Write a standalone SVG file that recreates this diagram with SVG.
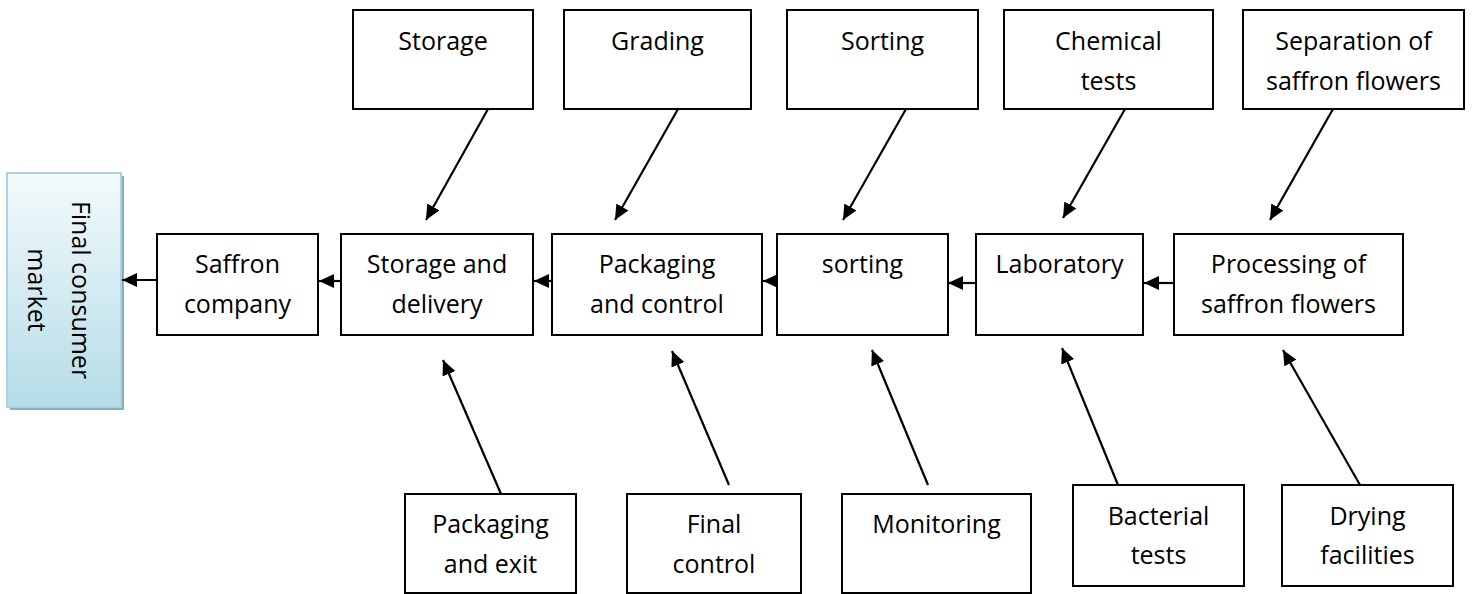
<svg xmlns="http://www.w3.org/2000/svg" width="1479" height="594" viewBox="0 0 1479 594">
  <style>
    .box { fill: #ffffff; stroke: #000000; stroke-width: 2; }
    .lbl { font-family: "Open Sans", "Liberation Sans", sans-serif; font-size: 25px; fill: #000000; text-anchor: middle; }
    .conn { stroke: #000000; stroke-width: 2.2; fill: none; marker-end: url(#arrow); }
  </style>
  <defs>
    <marker id="arrow" markerUnits="userSpaceOnUse" markerWidth="16" markerHeight="14" refX="15" refY="7" orient="auto">
      <path d="M0,0 L15,7 L0,14 z" fill="#000000"/>
    </marker>
    <linearGradient id="marketFill" x1="0" y1="0" x2="0" y2="1">
      <stop offset="0" stop-color="#f3fafc"/>
      <stop offset="1" stop-color="#b5dce7"/>
    </linearGradient>
  </defs>

  <!-- Final consumer market -->
  <g id="market">
    <rect x="10" y="176" width="114" height="234" fill="#8aaebd"/>
    <rect x="7" y="173" width="114" height="234" fill="url(#marketFill)" stroke="#a8d4e0" stroke-width="2"/>
    <text class="lbl" transform="translate(64,290) rotate(90)"><tspan x="0" y="-8">Final consumer</tspan><tspan x="0" y="36">market</tspan></text>
  </g>

  <!-- Main chain -->
  <g id="saffron-company">
    <rect class="box" x="157" y="234" width="161" height="101"/>
    <text class="lbl"><tspan x="237.5" y="273">Saffron</tspan><tspan x="237.5" y="313">company</tspan></text>
  </g>
  <g id="storage-delivery">
    <rect class="box" x="341" y="234" width="192" height="101"/>
    <text class="lbl"><tspan x="437" y="273">Storage and</tspan><tspan x="437" y="313">delivery</tspan></text>
  </g>
  <g id="packaging-control">
    <rect class="box" x="552" y="234" width="210" height="101"/>
    <text class="lbl"><tspan x="657" y="273">Packaging</tspan><tspan x="657" y="313">and control</tspan></text>
  </g>
  <g id="sorting-main">
    <rect class="box" x="777" y="234" width="171" height="101"/>
    <text class="lbl"><tspan x="862.5" y="273">sorting</tspan></text>
  </g>
  <g id="laboratory">
    <rect class="box" x="976" y="234" width="167" height="101"/>
    <text class="lbl"><tspan x="1059.5" y="273">Laboratory</tspan></text>
  </g>
  <g id="processing">
    <rect class="box" x="1174" y="234" width="229" height="101"/>
    <text class="lbl"><tspan x="1288.5" y="273">Processing of</tspan><tspan x="1288.5" y="313">saffron flowers</tspan></text>
  </g>

  <!-- Upper inputs -->
  <g id="storage">
    <rect class="box" x="353" y="10" width="180" height="99"/>
    <text class="lbl"><tspan x="443" y="50">Storage</tspan></text>
  </g>
  <g id="grading">
    <rect class="box" x="564" y="10" width="187" height="99"/>
    <text class="lbl"><tspan x="657.5" y="50">Grading</tspan></text>
  </g>
  <g id="sorting-input">
    <rect class="box" x="787" y="10" width="191" height="99"/>
    <text class="lbl"><tspan x="882.5" y="50">Sorting</tspan></text>
  </g>
  <g id="chemical-tests">
    <rect class="box" x="1004" y="10" width="209" height="99"/>
    <text class="lbl"><tspan x="1108.5" y="50">Chemical</tspan><tspan x="1108.5" y="90">tests</tspan></text>
  </g>
  <g id="separation">
    <rect class="box" x="1243" y="10" width="221" height="99"/>
    <text class="lbl"><tspan x="1353.5" y="50">Separation of</tspan><tspan x="1353.5" y="90">saffron flowers</tspan></text>
  </g>

  <!-- Lower inputs -->
  <g id="packaging-exit">
    <rect class="box" x="405" y="494" width="171" height="99"/>
    <text class="lbl"><tspan x="490.5" y="533">Packaging</tspan><tspan x="490.5" y="573">and exit</tspan></text>
  </g>
  <g id="final-control">
    <rect class="box" x="627" y="494" width="174" height="99"/>
    <text class="lbl"><tspan x="714" y="533">Final</tspan><tspan x="714" y="573">control</tspan></text>
  </g>
  <g id="monitoring">
    <rect class="box" x="842" y="494" width="189" height="99"/>
    <text class="lbl"><tspan x="936.5" y="533">Monitoring</tspan></text>
  </g>
  <g id="bacterial-tests">
    <rect class="box" x="1073" y="485" width="171" height="101"/>
    <text class="lbl"><tspan x="1158.5" y="525">Bacterial</tspan><tspan x="1158.5" y="564">tests</tspan></text>
  </g>
  <g id="drying">
    <rect class="box" x="1282" y="485" width="171" height="101"/>
    <text class="lbl"><tspan x="1367.5" y="525">Drying</tspan><tspan x="1367.5" y="564">facilities</tspan></text>
  </g>

  <!-- Connectors -->
  <g id="connectors">
    <line class="conn" x1="157" y1="280" x2="122" y2="280"/>
    <line class="conn" x1="341" y1="281" x2="319" y2="281"/>
    <line class="conn" x1="552" y1="281" x2="534" y2="281"/>
    <line class="conn" x1="777" y1="281" x2="763" y2="281"/>
    <line class="conn" x1="976" y1="283" x2="948" y2="283"/>
    <line class="conn" x1="1174" y1="283" x2="1144" y2="283"/>

    <line class="conn" x1="488" y1="109" x2="426" y2="220"/>
    <line class="conn" x1="678" y1="109" x2="615" y2="220"/>
    <line class="conn" x1="906" y1="109" x2="843" y2="220"/>
    <line class="conn" x1="1125" y1="109" x2="1063" y2="218"/>
    <line class="conn" x1="1333" y1="109" x2="1270" y2="220"/>

    <line class="conn" x1="501" y1="494" x2="443" y2="360"/>
    <line class="conn" x1="729" y1="485" x2="672" y2="351"/>
    <line class="conn" x1="928" y1="485" x2="872" y2="350"/>
    <line class="conn" x1="1118" y1="485" x2="1062" y2="348"/>
    <line class="conn" x1="1360" y1="485" x2="1283" y2="350"/>
  </g>
</svg>
